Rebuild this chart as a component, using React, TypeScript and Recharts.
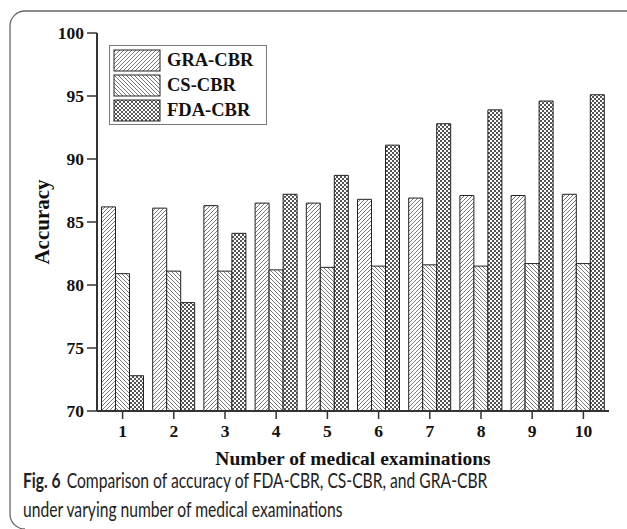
import { BarChart, Bar, XAxis, YAxis, Legend } from 'recharts'

const exams = ['1', '2', '3', '4', '5', '6', '7', '8', '9', '10']
const graCbr = [86.2, 86.1, 86.3, 86.5, 86.5, 86.8, 86.9, 87.1, 87.1, 87.2]
const csCbr = [80.9, 81.1, 81.1, 81.2, 81.4, 81.5, 81.6, 81.5, 81.7, 81.7]
const fdaCbr = [72.8, 78.6, 84.1, 87.2, 88.7, 91.1, 92.8, 93.9, 94.6, 95.1]
const yTicks = [70, 75, 80, 85, 90, 95, 100]

const series = [
  { key: 'GRA-CBR', fill: 'url(#hatchFwd)' },
  { key: 'CS-CBR', fill: 'url(#hatchBack)' },
  { key: 'FDA-CBR', fill: 'url(#checker)' },
]

const data = exams.map((exam, i) => ({
  exam,
  'GRA-CBR': graCbr[i],
  'CS-CBR': csCbr[i],
  'FDA-CBR': fdaCbr[i],
}))

const serif = '"Liberation Serif", "Times New Roman", serif'
const sans = 'Lato, "Open Sans", sans-serif'
const axisColor = '#333'
const tickStyle = { fill: '#111', fontSize: 17.5, fontWeight: 700, fontFamily: serif }

function LegendBox() {
  return (
    <div
      style={{
        border: '1px solid #777',
        background: '#fff',
        width: 156,
        height: 76,
        boxSizing: 'content-box',
        paddingTop: 2,
      }}
    >
      {series.map((s) => (
        <div key={s.key} style={{ display: 'flex', alignItems: 'center', height: 25 }}>
          <svg width={52} height={24} style={{ marginLeft: 3 }}>
            <rect x={1} y={1} width={46} height={21} fill={s.fill} stroke="#222" strokeWidth={1} />
          </svg>
          <span
            style={{
              fontFamily: serif,
              fontWeight: 700,
              fontSize: 18.5,
              color: '#111',
              marginLeft: 2,
            }}
          >
            {s.key}
          </span>
        </div>
      ))}
    </div>
  )
}

export default function App() {
  return (
    <div style={{ position: 'absolute', left: 0, top: 0, width: 627, height: 529, background: '#fff' }}>
      <svg width={627} height={529} style={{ position: 'absolute', left: 0, top: 0 }}>
        <path
          d="M627,11 H25 A15,15 0 0 0 10,26 V514 A15,15 0 0 0 25,529"
          fill="none"
          stroke="#666"
          strokeWidth={1.3}
        />
      </svg>
      <div style={{ position: 'absolute', left: 0, top: 0 }}>
        <BarChart
          width={627}
          height={529}
          data={data}
          margin={{ top: 33, right: 18, bottom: 88, left: 47 }}
          barCategoryGap={4.5}
          barGap={0}
        >
          <defs>
            <pattern id="hatchFwd" patternUnits="userSpaceOnUse" width={4} height={4}>
              <rect width={4} height={4} fill="#fff" />
              <path d="M-1,1 l2,-2 M0,4 l4,-4 M3,5 l2,-2" stroke="#555" strokeWidth={0.8} />
            </pattern>
            <pattern id="hatchBack" patternUnits="userSpaceOnUse" width={4} height={4}>
              <rect width={4} height={4} fill="#fff" />
              <path d="M-1,3 l2,2 M0,0 l4,4 M3,-1 l2,2" stroke="#555" strokeWidth={0.8} />
            </pattern>
            <pattern id="checker" patternUnits="userSpaceOnUse" width={4} height={4}>
              <rect width={4} height={4} fill="#fff" />
              <rect x={0} y={0} width={2} height={2} fill="#555" />
              <rect x={2} y={2} width={2} height={2} fill="#555" />
            </pattern>
          </defs>
          <XAxis
            dataKey="exam"
            height={30}
            tickSize={8}
            tickLine={{ stroke: axisColor, strokeWidth: 1.5 }}
            axisLine={{ stroke: axisColor, strokeWidth: 2 }}
            tick={tickStyle}
            tickMargin={6}
            label={{
              value: 'Number of medical examinations',
              position: 'insideBottom',
              offset: -24,
              style: { fill: '#111', fontSize: 19.5, fontWeight: 700, fontFamily: serif },
            }}
          />
          <XAxis
            xAxisId="top"
            dataKey="exam"
            orientation="top"
            height={0}
            tick={false}
            tickLine={false}
            axisLine={{ stroke: axisColor, strokeWidth: 2 }}
          />
          <YAxis
            domain={[70, 100]}
            ticks={yTicks}
            width={50}
            tickSize={10}
            tickLine={{ stroke: axisColor, strokeWidth: 1.5 }}
            axisLine={{ stroke: axisColor, strokeWidth: 2 }}
            tick={tickStyle}
            tickMargin={3}
            label={{
              value: 'Accuracy',
              angle: -90,
              position: 'insideLeft',
              offset: -5,
              style: {
                fill: '#111',
                fontSize: 21,
                fontWeight: 700,
                fontFamily: serif,
                textAnchor: 'middle',
              },
            }}
          />
          <YAxis
            yAxisId="right"
            orientation="right"
            domain={[70, 100]}
            width={0}
            tick={false}
            tickLine={false}
            axisLine={{ stroke: axisColor, strokeWidth: 2 }}
          />
          <Legend
            layout="horizontal"
            verticalAlign="middle"
            align="center"
            wrapperStyle={{ left: 109, top: 45, width: 'auto', height: 'auto' }}
            content={() => <LegendBox />}
          />
          {series.map((s) => (
            <Bar
              key={s.key}
              dataKey={s.key}
              fill={s.fill}
              stroke="#222"
              strokeWidth={1}
              isAnimationActive={false}
            />
          ))}
        </BarChart>
      </div>
      <div
        style={{
          position: 'absolute',
          left: 23,
          top: 465,
          fontFamily: sans,
          fontSize: 21,
          lineHeight: '29px',
          color: '#222',
          whiteSpace: 'nowrap',
          transform: 'scaleX(0.745)',
          transformOrigin: 'left top',
        }}
      >
        <div>
          <span style={{ fontWeight: 700 }}>Fig. 6</span>
          <span style={{ marginLeft: 8 }}>Comparison of accuracy of FDA-CBR, CS-CBR, and GRA-CBR</span>
        </div>
        <div>under varying number of medical examinations</div>
      </div>
    </div>
  )
}
